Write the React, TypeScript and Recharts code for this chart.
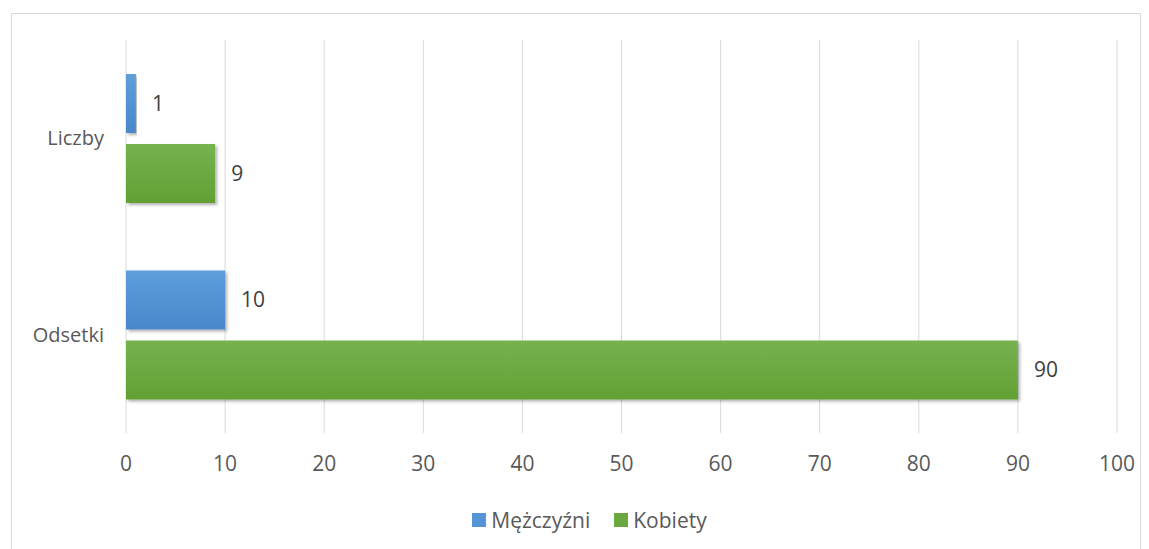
import { BarChart, Bar, XAxis, YAxis, CartesianGrid, Legend, LabelList } from "recharts"

const categories = ["Liczby", "Odsetki"]
const menValues = [1, 10]
const womenValues = [9, 90]
const xTicks = [0, 10, 20, 30, 40, 50, 60, 70, 80, 90, 100]
const seriesNames = ["Mężczyźni", "Kobiety"]
const seriesColors = ["#5595d6", "#6aa83f"]

const data = categories.map((name, i) => ({
  name,
  men: menValues[i],
  women: womenValues[i],
}))

const font = "'Open Sans', 'Noto Sans', sans-serif"

// legend drawn by hand so the spacing matches the Excel one
function LegendContent() {
  return (
    <div style={{ display: "flex", justifyContent: "center", gap: 24, fontFamily: font, fontSize: 21, color: "#595959", paddingLeft: 62 }}>
      {seriesNames.map((s, i) => (
        <div key={s} style={{ display: "flex", alignItems: "center" }}>
          <span style={{ width: 14, height: 14, background: seriesColors[i], marginRight: 5, display: "inline-block" }} />
          <span>{s}</span>
        </div>
      ))}
    </div>
  )
}

export default function App() {
  return (
    <div style={{ position: "absolute", left: 0, top: 0, width: 1149, height: 549, background: "#fff", overflow: "hidden" }}>
      <div
        style={{
          position: "absolute",
          left: 11,
          top: 13,
          width: 1128,
          height: 560,
          border: "1px solid #d9d9d9",
        }}
      />
      <div style={{ position: "absolute", left: 0, top: 0 }}>
        <BarChart
          width={1149}
          height={549}
          layout="vertical"
          data={data}
          margin={{ top: 40, right: 32, left: 0, bottom: 42 }}
          barSize={59}
          barGap={11}
        >
          <defs>
            <linearGradient id="blueGrad" x1="0" y1="0" x2="0" y2="1">
              <stop offset="0%" stopColor="#5d9edb" />
              <stop offset="100%" stopColor="#4888cb" />
            </linearGradient>
            <linearGradient id="greenGrad" x1="0" y1="0" x2="0" y2="1">
              <stop offset="0%" stopColor="#76b24f" />
              <stop offset="100%" stopColor="#62a034" />
            </linearGradient>
            <filter id="shadow" x="-5%" y="-10%" width="115%" height="130%">
              <feDropShadow dx="2" dy="2" stdDeviation="1.5" floodColor="#000" floodOpacity="0.3" />
            </filter>
          </defs>
          <CartesianGrid horizontal={false} stroke="#d9d9d9" />
          <XAxis
            type="number"
            domain={[0, 100]}
            ticks={xTicks}
            axisLine={false}
            tickLine={false}
            tickSize={0}
            tickMargin={23}
            height={46}
            tick={{ fill: "#595959", fontSize: 21, fontFamily: font }}
          />
          <YAxis
            type="category"
            dataKey="name"
            width={126}
            axisLine={false}
            tickLine={false}
            tickSize={0}
            tickMargin={22}
            tick={{ fill: "#595959", fontSize: 20, fontFamily: font }}
          />
          <Legend verticalAlign="bottom" content={<LegendContent />} wrapperStyle={{ bottom: 15 }} />
          <Bar dataKey="men" name={seriesNames[0]} fill="url(#blueGrad)" filter="url(#shadow)" isAnimationActive={false}>
            <LabelList dataKey="men" position="right" offset={16} fill="#404040" fontSize={21} fontFamily={font} />
          </Bar>
          <Bar dataKey="women" name={seriesNames[1]} fill="url(#greenGrad)" filter="url(#shadow)" isAnimationActive={false}>
            <LabelList dataKey="women" position="right" offset={16} fill="#404040" fontSize={21} fontFamily={font} />
          </Bar>
        </BarChart>
      </div>
    </div>
  )
}
